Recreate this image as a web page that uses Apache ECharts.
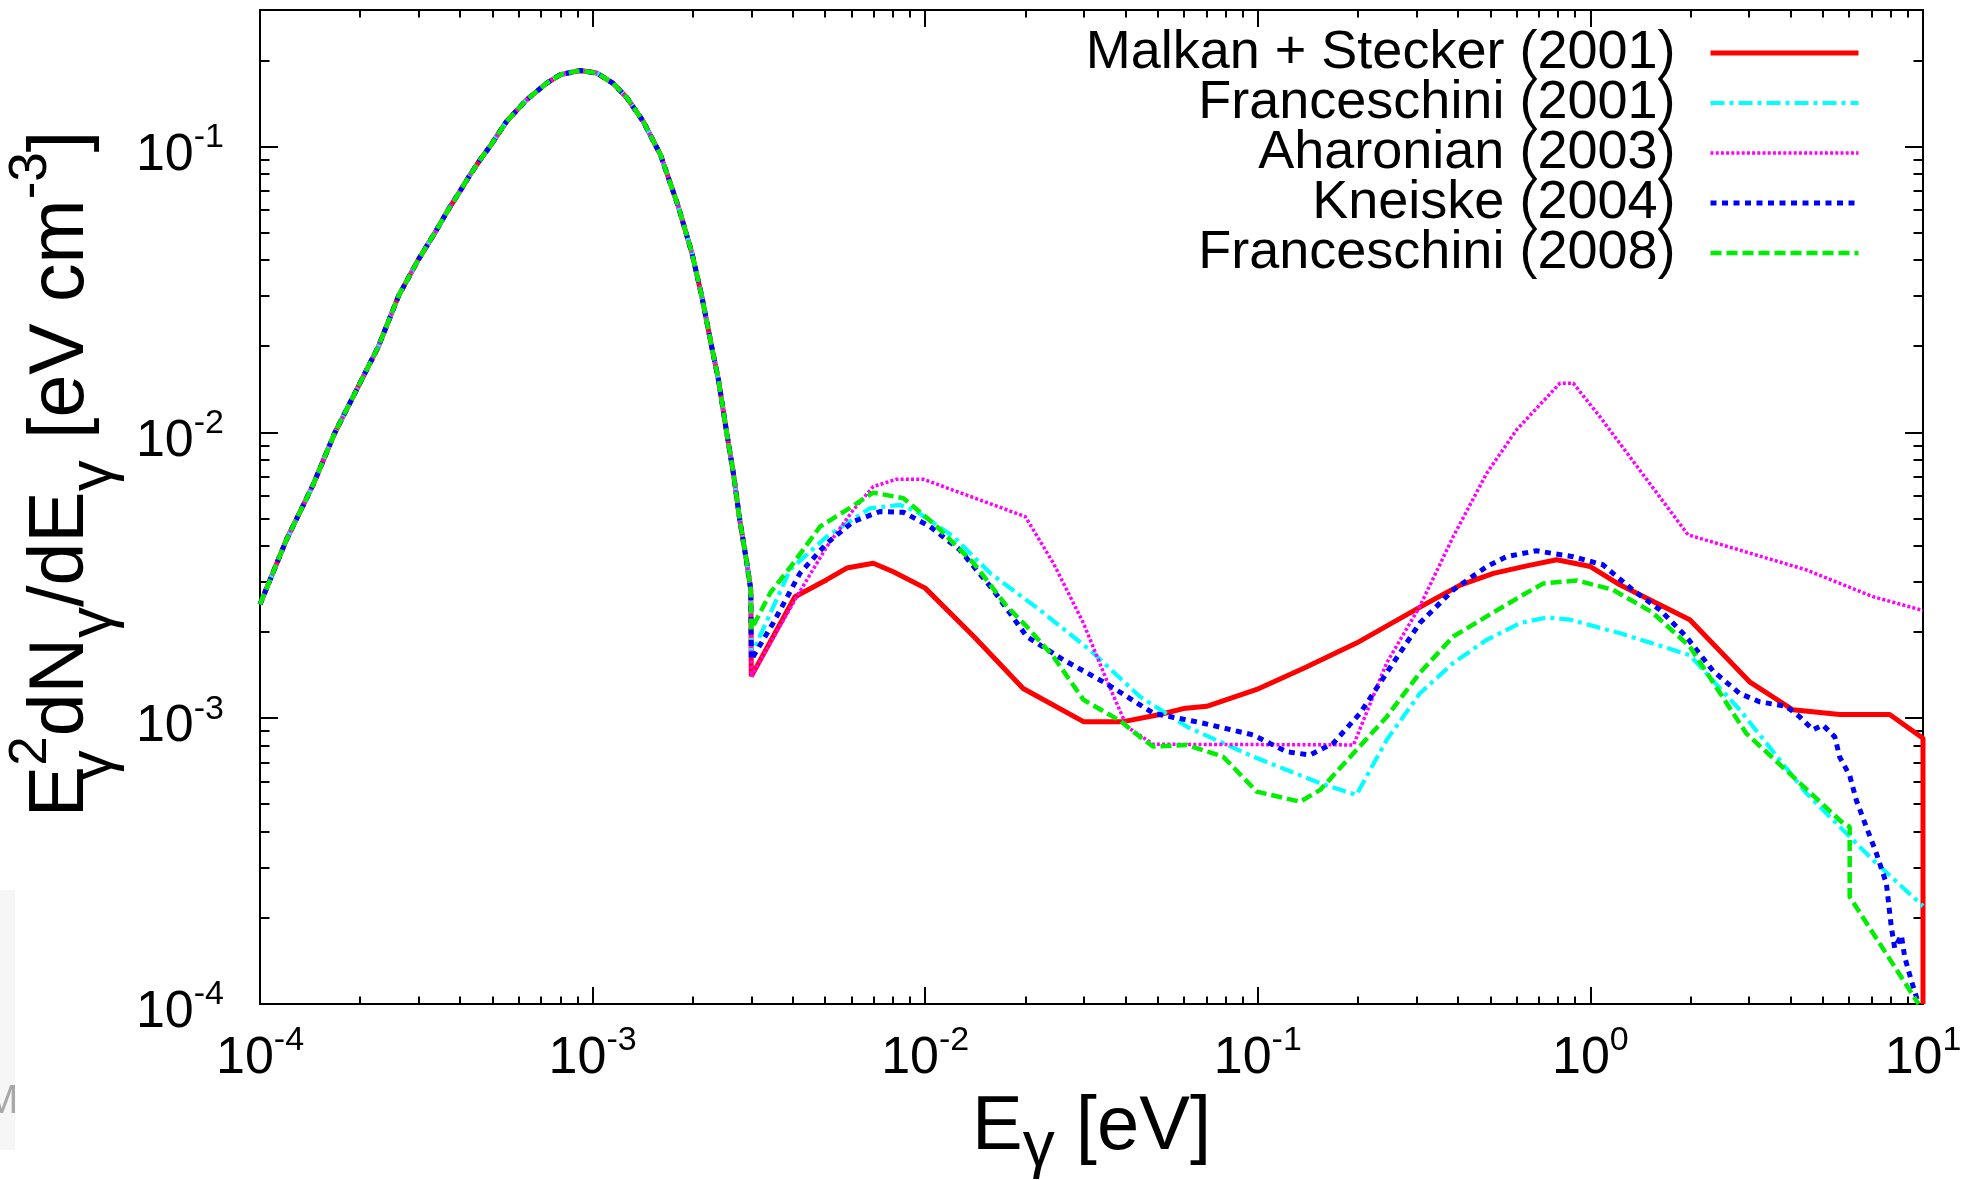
<!DOCTYPE html>
<html>
<head>
<meta charset="utf-8">
<script src="https://cdn.jsdelivr.net/npm/echarts@6/dist/echarts.min.js"></script>
<style>
  html, body { margin: 0; padding: 0; background: #fff; }
  #chart { width: 1973px; height: 1180px; }
</style>
</head>
<body>
<div id="chart"></div>
<script>
// Photon energy density E^2 dN/dE [eV cm^-3] versus photon energy E [eV].

// Cosmic microwave background part, shared by every model up to 3 meV
const cmbE = [1.00e-4, 1.20e-4, 1.44e-4, 1.68e-4, 2.27e-4, 2.61e-4, 2.99e-4, 3.36e-4, 3.68e-4, 3.99e-4,
              4.28e-4, 4.59e-4, 4.91e-4, 5.51e-4, 6.33e-4, 7.28e-4, 7.98e-4, 9.17e-4, 1.03e-3, 1.15e-3,
              1.27e-3, 1.42e-3, 1.60e-3, 1.81e-3, 1.99e-3, 2.13e-3, 2.28e-3, 2.39e-3, 2.53e-3, 2.65e-3,
              2.77e-3, 2.91e-3, 2.99e-3];
const cmbV = [2.5e-3, 4.2e-3, 6.5e-3, 9.98e-3, 1.995e-2, 3.0e-2, 4.01e-2, 5.0e-2, 6.0e-2, 6.96e-2,
              7.95e-2, 8.98e-2, 9.99e-2, 0.1222, 0.1455, 0.1665, 0.178, 0.1843, 0.1805, 0.1665,
              0.1476, 0.1222, 0.0935, 0.0616, 0.0423, 0.02985, 0.01995, 0.01525, 9.98e-3, 7.19e-3,
              4.94e-3, 3.48e-3, 2.81e-3];

// Extragalactic background light models (infrared / optical)
const malkanE = [3.0e-3, 4.06e-3, 5.06e-3, 5.81e-3, 6.98e-3, 8.02e-3, 1.0e-2, 1.40e-2, 1.97e-2, 2.99e-2,
                 3.94e-2, 5.08e-2, 5.97e-2, 7.02e-2, 9.93e-2, 0.140, 0.198, 0.322, 0.406, 0.511,
                 0.644, 0.792, 1.0, 1.23, 1.99, 3.01, 4.06, 5.62, 7.94, 10, 10];
const malkanV = [1.40e-3, 2.66e-3, 3.05e-3, 3.35e-3, 3.48e-3, 3.25e-3, 2.85e-3, 1.93e-3, 1.27e-3, 9.72e-4,
                 9.72e-4, 1.03e-3, 1.08e-3, 1.10e-3, 1.26e-3, 1.51e-3, 1.83e-3, 2.52e-3, 2.92e-3, 3.21e-3,
                 3.41e-3, 3.58e-3, 3.39e-3, 2.92e-3, 2.21e-3, 1.34e-3, 1.07e-3, 1.03e-3, 1.03e-3, 8.5e-4, 1.0e-4];

const franc01E = [3.0e-3, 3.92e-3, 5.06e-3, 6.82e-3, 8.40e-3, 9.43e-3, 1.215e-2, 1.57e-2, 2.21e-2, 3.13e-2,
                  4.42e-2, 6.11e-2, 9.69e-2, 0.154, 0.198, 0.244, 0.307, 0.387, 0.488, 0.614,
                  0.739, 0.868, 1.23, 1.99, 2.81, 4.46, 7.07, 10];
const franc01V = [1.66e-3, 3.30e-3, 4.32e-3, 5.42e-3, 5.57e-3, 5.28e-3, 4.32e-3, 3.21e-3, 2.39e-3, 1.73e-3,
                  1.19e-3, 9.34e-4, 7.33e-4, 5.92e-4, 5.39e-4, 8.39e-4, 1.22e-3, 1.56e-3, 1.88e-3, 2.15e-3,
                  2.25e-3, 2.21e-3, 1.98e-3, 1.66e-3, 1.07e-3, 5.46e-4, 3.19e-4, 2.2e-4];

const aharE = [3.0e-3, 4.11e-3, 5.06e-3, 6.08e-3, 6.98e-3, 8.21e-3, 9.87e-3, 2.0e-2, 2.43e-2, 2.99e-2,
               3.51e-2, 4.04e-2, 4.85e-2, 0.194, 0.244, 0.307, 0.387, 0.488, 0.600, 0.810,
               0.888, 1.067, 1.965, 4.46, 7.07, 10];
const aharV = [1.40e-3, 2.66e-3, 3.98e-3, 5.35e-3, 6.46e-3, 6.85e-3, 6.85e-3, 5.07e-3, 3.48e-3, 2.15e-3,
               1.36e-3, 9.34e-4, 8.1e-4, 8.06e-4, 1.56e-3, 2.46e-3, 4.32e-3, 7.19e-3, 1.02e-2, 1.485e-2,
               1.485e-2, 1.135e-2, 4.38e-3, 3.30e-3, 2.66e-3, 2.38e-3];

const kneiskeE = [3.0e-3, 3.49e-3, 4.20e-3, 5.06e-3, 6.08e-3, 7.31e-3, 8.60e-3, 1.034e-2, 1.27e-2, 1.60e-2,
                  2.02e-2, 2.60e-2, 3.51e-2, 4.85e-2, 6.86e-2, 9.69e-2, 0.122, 0.1436, 0.1687, 0.203,
                  0.244, 0.307, 0.387, 0.488, 0.558, 0.688, 0.888, 1.09, 1.34, 1.62,
                  1.94, 2.34, 2.81, 3.23, 3.88, 4.26, 4.67, 5.0, 5.43, 5.62,
                  6.02, 6.30, 6.75, 7.24, 7.76, 8.03, 8.22, 8.61, 8.81, 9.22, 9.7];
const kneiskeV = [1.60e-3, 2.15e-3, 3.21e-3, 4.09e-3, 4.87e-3, 5.28e-3, 5.25e-3, 4.68e-3, 3.88e-3, 2.81e-3,
                  1.93e-3, 1.60e-3, 1.32e-3, 1.04e-3, 9.60e-4, 8.73e-4, 7.63e-4, 7.43e-4, 8.17e-4, 1.04e-3,
                  1.44e-3, 2.15e-3, 2.81e-3, 3.39e-3, 3.67e-3, 3.85e-3, 3.67e-3, 3.44e-3, 2.81e-3, 2.39e-3,
                  1.93e-3, 1.46e-3, 1.22e-3, 1.14e-3, 1.10e-3, 1.01e-3, 9.1e-4, 9.46e-4, 8.6e-4, 7.3e-4,
                  6.3e-4, 5.17e-4, 4.17e-4, 3.37e-4, 2.64e-4, 1.86e-4, 1.57e-4, 1.74e-4, 1.46e-4, 1.21e-4, 1.0e-4];

const franc08E = [3.0e-3, 3.42e-3, 4.01e-3, 4.83e-3, 5.81e-3, 6.98e-3, 8.60e-3, 1.058e-2, 1.40e-2, 1.76e-2,
                  2.02e-2, 2.43e-2, 2.99e-2, 3.85e-2, 4.42e-2, 4.85e-2, 6.11e-2, 7.87e-2, 9.93e-2, 0.134,
                  0.154, 0.194, 0.244, 0.307, 0.387, 0.488, 0.614, 0.722, 0.91, 1.17,
                  1.53, 1.99, 2.94, 5.75, 6.02, 6.02, 9.7];
const franc08V = [2.04e-3, 2.74e-3, 3.48e-3, 4.68e-3, 5.35e-3, 6.15e-3, 5.88e-3, 4.81e-3, 3.48e-3, 2.46e-3,
                  2.09e-3, 1.64e-3, 1.16e-3, 9.8e-4, 8.6e-4, 7.95e-4, 8.06e-4, 7.33e-4, 5.53e-4, 5.10e-4,
                  5.61e-4, 7.54e-4, 1.01e-3, 1.44e-3, 1.93e-3, 2.27e-3, 2.66e-3, 2.96e-3, 3.03e-3, 2.81e-3,
                  2.35e-3, 1.78e-3, 8.85e-4, 4.29e-4, 4.17e-4, 2.37e-4, 1.0e-4];

const seriesNames = ['Malkan + Stecker (2001)', 'Franceschini (2001)', 'Aharonian (2003)',
                     'Kneiske (2004)', 'Franceschini (2008)'];

// Axis ranges and labelled decades
const xRange = [1e-4, 10];
const yRange = [1e-4, 0.3];
const xMajorTicks = [1e-4, 1e-3, 1e-2, 1e-1, 1, 10];
const yMajorTicks = [1e-4, 1e-3, 1e-2, 1e-1];

// Minor ticks at 2..9 times each decade
function minorTicks(decades, upper) {
  const out = [];
  decades.forEach(d => { for (let k = 2; k <= 9; k++) { const v = k * d; if (v < upper) out.push(v); } });
  return out;
}
const xMinorTicks = minorTicks(xMajorTicks.slice(0, -1), 9.99);
const yMinorTicks = minorTicks(yMajorTicks, 0.29);

function pairs(es, vs) {
  const n = Math.min(es.length, vs.length);
  const out = [];
  for (let i = 0; i < n; i++) out.push([es[i], vs[i]]);
  return out;
}
const cmbPairs = pairs(cmbE, cmbV);
function withCmb(es, vs) { return cmbPairs.concat(pairs(es, vs)); }

const FONT = '"Liberation Sans", Arial, Helvetica, sans-serif';
const INK = '#000';

function powerLabel(v) { return '{b|10}{s|' + Math.round(Math.log10(v)) + '}'; }
const powerRich = {
  b: { fontFamily: FONT, fontSize: 52, lineHeight: 52, padding: [9, 0, 0, 0], verticalAlign: 'top', color: INK },
  s: { fontFamily: FONT, fontSize: 34, lineHeight: 34, verticalAlign: 'top', color: INK }
};

function logAxis(range, position, opts) {
  return Object.assign({
    type: 'log', logBase: 10, min: range[0], max: range[1], position: position,
    splitLine: { show: false }, minorTick: { show: false }, minorSplitLine: { show: false },
    axisLine: { show: false },
    axisLabel: { show: false },
    axisTick: { show: false }
  }, opts);
}
function ticks(values, len) {
  return { show: true, inside: true, length: len, customValues: values, lineStyle: { color: INK, width: 2 } };
}
const frame = { show: true, onZero: false, lineStyle: { color: INK, width: 2 } };

const chart = echarts.init(document.getElementById('chart'), null, { renderer: 'canvas' });

chart.setOption({
  animation: false,
  backgroundColor: '#fff',
  grid: { left: 260, right: 50, top: 10, bottom: 176, containLabel: false, outerBoundsMode: 'none' },
  // faint edge of a neighbouring page along the left margin
  graphic: [
    { type: 'rect', left: 0, top: 890, shape: { width: 15, height: 260 }, style: { fill: '#f6f6f6' }, silent: true },
    { type: 'text', x: -15, y: 1082, style: { text: 'M', font: '40px "Liberation Sans", Arial, sans-serif', fill: '#a8a8a8' }, silent: true }
  ],
  legend: {
    orient: 'vertical', right: 112, top: 26, align: 'right', padding: 0, itemGap: -4,
    itemWidth: 148, itemHeight: 14, selectedMode: false,
    itemStyle: { opacity: 0 },
    lineStyle: { width: 'inherit' },
    textStyle: { fontFamily: FONT, fontSize: 54, color: INK, padding: [0, 30, 0, 0] },
    data: seriesNames
  },
  xAxis: [
    logAxis(xRange, 'bottom', {
      axisLine: frame,
      axisTick: ticks(xMajorTicks, 17),
      axisLabel: {
        show: true, customValues: xMajorTicks, margin: 20, formatter: powerLabel, rich: powerRich,
        alignMinLabel: 'center', alignMaxLabel: 'center', hideOverlap: false
      },
      name: '{m|E}{b|γ}{m| [eV]}',
      nameLocation: 'middle', nameGap: 79,
      nameTextStyle: {
        rich: {
          m: { fontFamily: FONT, fontSize: 76, lineHeight: 76, verticalAlign: 'top', color: INK },
          b: { fontFamily: FONT, fontSize: 64, lineHeight: 64, padding: [26, 0, 0, 0], verticalAlign: 'top', color: INK }
        }
      }
    }),
    logAxis(xRange, 'bottom', { axisTick: ticks(xMinorTicks, 7.5) }),
    logAxis(xRange, 'top', { axisLine: frame, axisTick: ticks(xMajorTicks, 17) }),
    logAxis(xRange, 'top', { axisTick: ticks(xMinorTicks, 7.5) })
  ],
  yAxis: [
    logAxis(yRange, 'left', {
      axisLine: frame,
      axisTick: ticks(yMajorTicks, 18),
      axisLabel: {
        show: true, customValues: yMajorTicks, margin: 36, formatter: powerLabel, rich: powerRich,
        verticalAlignMinLabel: 'middle', verticalAlignMaxLabel: 'middle', hideOverlap: false
      },
      name: '{m0|E}{bs|γ}{s|2}{m|dN}{b|γ}{m|/dE}{b|γ}{m| [eV cm}{s|-3}{m|]}',
      nameLocation: 'middle', nameRotate: 90, nameGap: 122,
      nameTextStyle: {
        rich: {
          m0: { fontFamily: FONT, fontSize: 77, lineHeight: 77, padding: [18, 0, 0, 66], verticalAlign: 'top', color: INK },
          m: { fontFamily: FONT, fontSize: 77, lineHeight: 77, padding: [18, 0, 0, 0], verticalAlign: 'top', color: INK },
          b: { fontFamily: FONT, fontSize: 62, lineHeight: 62, padding: [58, 0, 0, 0], verticalAlign: 'top', color: INK },
          bs: { fontFamily: FONT, fontSize: 62, lineHeight: 62, padding: [58, 0, 0, 0], verticalAlign: 'top', width: 0.01, color: INK },
          s: { fontFamily: FONT, fontSize: 53, lineHeight: 53, verticalAlign: 'top', color: INK }
        }
      }
    }),
    logAxis(yRange, 'left', { axisTick: ticks(yMinorTicks, 9.5) }),
    logAxis(yRange, 'right', { axisLine: frame, axisTick: ticks(yMajorTicks, 18) }),
    logAxis(yRange, 'right', { axisTick: ticks(yMinorTicks, 9.5) })
  ],
  series: [
    { name: seriesNames[0], data: withCmb(malkanE, malkanV), color: '#ff0000',
      lineStyle: { color: '#ff0000', width: 5, type: 'solid' } },
    { name: seriesNames[1], data: withCmb(franc01E, franc01V), color: '#00ffff',
      lineStyle: { color: '#00ffff', width: 4.2, type: [14, 5, 4, 5] } },
    { name: seriesNames[2], data: withCmb(aharE, aharV), color: '#ff00ff',
      lineStyle: { color: '#ff00ff', width: 3.5, type: [3, 2.2] } },
    { name: seriesNames[3], data: withCmb(kneiskeE, kneiskeV), color: '#0000ff',
      lineStyle: { color: '#0000ff', width: 5, type: [6, 5.5] } },
    { name: seriesNames[4], data: withCmb(franc08E, franc08V), color: '#00ee00',
      lineStyle: { color: '#00ee00', width: 4.5, type: [11, 5] } }
  ].map(s => Object.assign({
    type: 'line', xAxisIndex: 0, yAxisIndex: 0, symbol: 'none', showSymbol: false,
    smooth: false, silent: true, clip: true, itemStyle: { color: s.color }
  }, s))
});
</script>
</body>
</html>
